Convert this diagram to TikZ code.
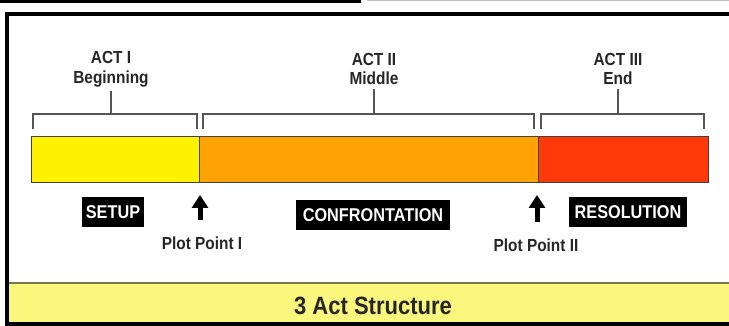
\documentclass[tikz,border=0pt]{standalone}
\usepackage{fontspec}
\setmainfont{Liberation Sans}
\newfontfamily\condfont[FakeStretch=0.88]{Liberation Sans}
\usetikzlibrary{arrows.meta}
\definecolor{barY}{HTML}{FFF200}
\definecolor{barO}{HTML}{FFA203}
\definecolor{barR}{HTML}{FF3A0A}
\definecolor{footY}{HTML}{FAF77C}
\definecolor{footL}{HTML}{77774A}
\definecolor{brk}{HTML}{555555}
\tikzset{
  lbl/.style={font=\condfont\fontsize{17.5}{19.5}\selectfont\bfseries, text=black!85, align=center, inner sep=0pt},
  tag/.style={fill=black, text=white, font=\condfont\fontsize{18.5}{20}\selectfont\bfseries, inner sep=0pt, minimum height=30pt},
  seg/.style={draw=black!75, line width=1pt, minimum height=46pt, inner sep=0pt},
  brack/.style={draw=brk, line width=1.6pt},
  fatarrow/.style={line width=5pt, -{Triangle[width=16pt,length=13pt]}}
}
\begin{document}
\begin{tikzpicture}[x=1pt,y=-1pt]
\useasboundingbox (0,0) rectangle (729,326);
\fill[white] (0,0) rectangle (729,326);
% top strips
\fill[black] (0,0) rectangle (361,3);
\fill[black!25] (367,0) rectangle (729,1.5);
% footer band
\fill[footY] (7,282) rectangle (729,324);
\draw[footL, line width=2pt] (7,283) -- (729,283);
\node[font=\condfont\fontsize{25}{28}\selectfont\bfseries, text=black!85] (title) at (373,306) {3 Act Structure};
% frame
\draw[black, line width=4pt] (731,14) -- (7,14) -- (7,324) -- (731,324);
% bar segments
\node[seg, fill=barY, minimum width=168pt] (s1) at (115,160) {};
\node[seg, fill=barO, minimum width=339pt] (s2) at (368.5,160) {};
\node[seg, fill=barR, minimum width=170pt] (s3) at (623,160) {};
% act labels
\node[lbl] (a1) at (111,69) {ACT I\\Beginning};
\node[lbl] (a2) at (374,69) {ACT II\\Middle};
\node[lbl] (a3) at (618,69) {ACT III\\End};
% brackets
\coordinate (b1) at (111,114);
\coordinate (b2) at (374,114);
\coordinate (b3) at (618,114);
\draw[brack] (33,129) -- (33,114) -- (197,114) -- (197,129);
\draw[brack] (a1.south) ++(0,-4pt) coordinate (a1s) (a1s) -- (b1);
\draw[brack] (203,129) -- (203,114) -- (534,114) -- (534,129);
\draw[brack] (a2.south) ++(0,-4pt) coordinate (a2s) (a2s) -- (b2);
\draw[brack] (541,129) -- (541,114) -- (704,114) -- (704,129);
\draw[brack] (a3.south) ++(0,-4pt) coordinate (a3s) (a3s) -- (b3);
% tags
\node[tag, minimum width=62pt] (setup) at (113,212.5) {SETUP};
\node[tag, minimum width=154pt] (conf) at (373,215) {CONFRONTATION};
\node[tag, minimum width=118pt] (reso) at (628,212) {RESOLUTION};
% plot points
\node[lbl] (pp1) at (202,243) {Plot Point I};
\node[lbl] (pp2) at (536,245) {Plot Point II};
\coordinate (t1) at (200,195);
\coordinate (f1) at (200,220);
\coordinate (t2) at (537,195);
\coordinate (f2) at (537,222);
\draw[fatarrow] (f1) -- (t1);
\draw[fatarrow] (f2) -- (t2);
\end{tikzpicture}
\end{document}
